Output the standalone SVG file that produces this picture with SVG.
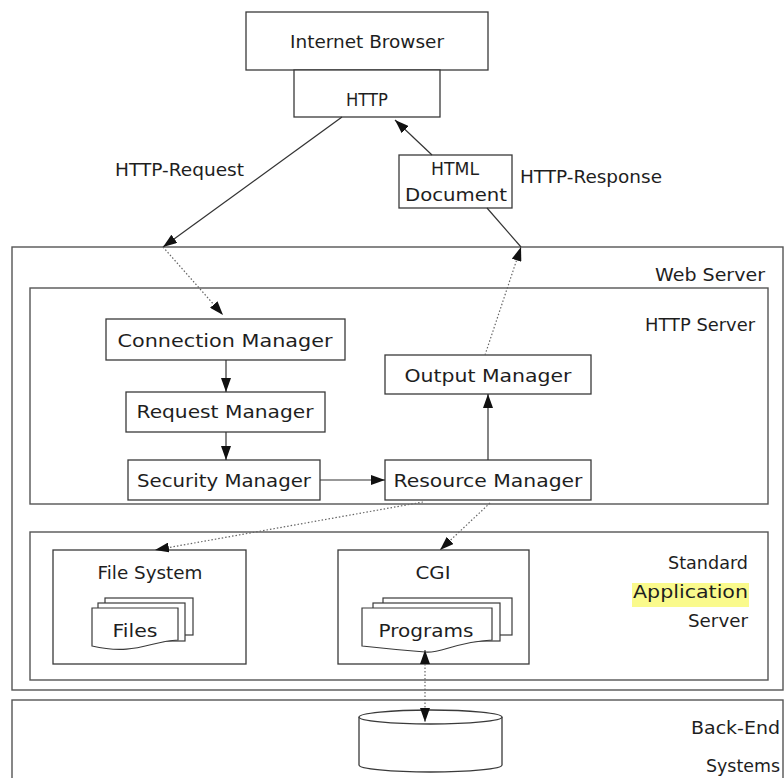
<svg xmlns="http://www.w3.org/2000/svg" width="784" height="778" viewBox="0 0 784 778">
  <defs>
    <style>
      .box { fill: #fff; stroke: #3a3a3a; stroke-width: 1.3; }
      .frame { fill: none; stroke: #555; stroke-width: 1.4; }
      .sheet { fill: #fff; stroke: #3a3a3a; stroke-width: 1.2; }
      .lbl { font-family: "DejaVu Sans", "Liberation Sans", sans-serif; font-size: 17px; fill: #1e1e1e; }
      .mid { text-anchor: middle; }
      .end { text-anchor: end; }
      .solid { fill: none; stroke: #333; stroke-width: 1.2; }
      .dot { fill: none; stroke: #666; stroke-width: 1.2; stroke-dasharray: 1.5 2; }
    </style>
    <marker id="arrow" viewBox="0 0 14 10" refX="14" refY="5" markerWidth="14" markerHeight="10" markerUnits="userSpaceOnUse" orient="auto">
      <path d="M0,0 L14,5 L0,10 Z" fill="#111"/>
    </marker>
    <marker id="arrowStart" viewBox="0 0 14 10" refX="0" refY="5" markerWidth="14" markerHeight="10" markerUnits="userSpaceOnUse" orient="auto">
      <path d="M14,0 L0,5 L14,10 Z" fill="#111"/>
    </marker>
  </defs>

  <rect width="784" height="778" fill="#fff"/>

  <!-- Layer frames -->
  <g id="web-server">
    <rect class="frame" x="12" y="247" width="771" height="443"/>
    <text class="lbl end" x="765" y="281" textLength="110" lengthAdjust="spacingAndGlyphs">Web Server</text>
  </g>
  <g id="http-server">
    <rect class="frame" x="30" y="288" width="738" height="216"/>
    <text class="lbl end" x="755" y="331" textLength="110" lengthAdjust="spacingAndGlyphs">HTTP Server</text>
  </g>
  <g id="app-server">
    <rect class="frame" x="30" y="532" width="738" height="148"/>
    <rect x="632" y="583" width="117" height="24" fill="#fafa8c"/>
    <text class="lbl end" x="748" y="569" textLength="80" lengthAdjust="spacingAndGlyphs">Standard</text>
    <text class="lbl end" x="748" y="598" textLength="115" lengthAdjust="spacingAndGlyphs">Application</text>
    <text class="lbl end" x="748" y="627" textLength="60" lengthAdjust="spacingAndGlyphs">Server</text>
  </g>
  <g id="back-end">
    <rect class="frame" x="12" y="700" width="771" height="82"/>
    <text class="lbl end" x="780" y="734" textLength="89" lengthAdjust="spacingAndGlyphs">Back-End</text>
    <text class="lbl end" x="780" y="772" textLength="74" lengthAdjust="spacingAndGlyphs">Systems</text>
  </g>

  <!-- Client side -->
  <g id="internet-browser">
    <rect class="box" x="246" y="12" width="242" height="58"/>
    <text class="lbl mid" x="367" y="48" textLength="154" lengthAdjust="spacingAndGlyphs">Internet Browser</text>
  </g>
  <g id="http">
    <rect class="box" x="294" y="70" width="146" height="47"/>
    <text class="lbl mid" x="367" y="106" textLength="42" lengthAdjust="spacingAndGlyphs">HTTP</text>
  </g>
  <g id="html-document">
    <rect class="box" x="399" y="155" width="113" height="53"/>
    <text class="lbl mid" x="455" y="175" textLength="48" lengthAdjust="spacingAndGlyphs">HTML</text>
    <text class="lbl mid" x="456" y="201" textLength="102" lengthAdjust="spacingAndGlyphs">Document</text>
  </g>
  <text class="lbl" x="115" y="176" textLength="129" lengthAdjust="spacingAndGlyphs">HTTP-Request</text>
  <text class="lbl" x="520" y="183" textLength="142" lengthAdjust="spacingAndGlyphs">HTTP-Response</text>

  <!-- HTTP server modules -->
  <g id="connection-manager">
    <rect class="box" x="106" y="319" width="239" height="41"/>
    <text class="lbl mid" x="225" y="347" textLength="215" lengthAdjust="spacingAndGlyphs">Connection Manager</text>
  </g>
  <g id="request-manager">
    <rect class="box" x="126" y="392" width="199" height="40"/>
    <text class="lbl mid" x="225" y="418" textLength="177" lengthAdjust="spacingAndGlyphs">Request Manager</text>
  </g>
  <g id="security-manager">
    <rect class="box" x="128" y="460" width="192" height="40"/>
    <text class="lbl mid" x="224" y="487" textLength="174" lengthAdjust="spacingAndGlyphs">Security Manager</text>
  </g>
  <g id="resource-manager">
    <rect class="box" x="385" y="460" width="206" height="40"/>
    <text class="lbl mid" x="488" y="487" textLength="189" lengthAdjust="spacingAndGlyphs">Resource Manager</text>
  </g>
  <g id="output-manager">
    <rect class="box" x="385" y="355" width="206" height="39"/>
    <text class="lbl mid" x="488" y="382" textLength="167" lengthAdjust="spacingAndGlyphs">Output Manager</text>
  </g>

  <!-- Application server -->
  <g id="file-system">
    <rect class="box" x="53" y="550" width="193" height="114"/>
    <text class="lbl mid" x="150" y="579" textLength="105" lengthAdjust="spacingAndGlyphs">File System</text>
    <rect class="sheet" x="105" y="598" width="88" height="37"/>
    <rect class="sheet" x="98" y="603" width="87" height="38"/>
    <path class="sheet" d="M92,608 H178 V640 C150,641 135,656 92,646 Z"/>
    <text class="lbl mid" x="135" y="637" textLength="45" lengthAdjust="spacingAndGlyphs">Files</text>
  </g>
  <g id="cgi">
    <rect class="box" x="338" y="550" width="191" height="114"/>
    <text class="lbl mid" x="433" y="579" textLength="35" lengthAdjust="spacingAndGlyphs">CGI</text>
    <rect class="sheet" x="383" y="598" width="129" height="37"/>
    <rect class="sheet" x="373" y="603" width="127" height="38"/>
    <path class="sheet" d="M362,608 H492 V640 C455,642 440,654 425,652 C400,650 380,648 362,646 Z"/>
    <text class="lbl mid" x="426" y="637" textLength="95" lengthAdjust="spacingAndGlyphs">Programs</text>
  </g>

  <!-- Back-end data store -->
  <g id="database">
    <path class="box" d="M359,717 V765 A71.5,7 0 0 0 502,765 V717"/>
    <ellipse class="box" cx="430.5" cy="717" rx="71.5" ry="7"/>
  </g>

  <!-- Connectors -->
  <g id="connectors">
    <line class="solid" x1="342" y1="117" x2="163" y2="247" marker-end="url(#arrow)"/>
    <line class="dot" x1="163" y1="247" x2="223" y2="315" marker-end="url(#arrow)"/>
    <line class="solid" x1="226" y1="360" x2="226" y2="392" marker-end="url(#arrow)"/>
    <line class="solid" x1="226" y1="432" x2="226" y2="460" marker-end="url(#arrow)"/>
    <line class="solid" x1="320" y1="480" x2="385" y2="480" marker-end="url(#arrow)"/>
    <line class="solid" x1="488" y1="460" x2="488" y2="394" marker-end="url(#arrow)"/>
    <line class="dot" x1="485" y1="355" x2="521" y2="247" marker-end="url(#arrow)"/>
    <line class="solid" x1="521" y1="247" x2="487" y2="208"/>
    <line class="solid" x1="432" y1="155" x2="395" y2="120" marker-end="url(#arrow)"/>
    <line class="dot" x1="423" y1="502" x2="155" y2="550" marker-end="url(#arrow)"/>
    <line class="dot" x1="490" y1="503" x2="440" y2="550" marker-end="url(#arrow)"/>
    <line class="dot" x1="425" y1="650" x2="425" y2="722" marker-start="url(#arrowStart)" marker-end="url(#arrow)"/>
  </g>
</svg>
